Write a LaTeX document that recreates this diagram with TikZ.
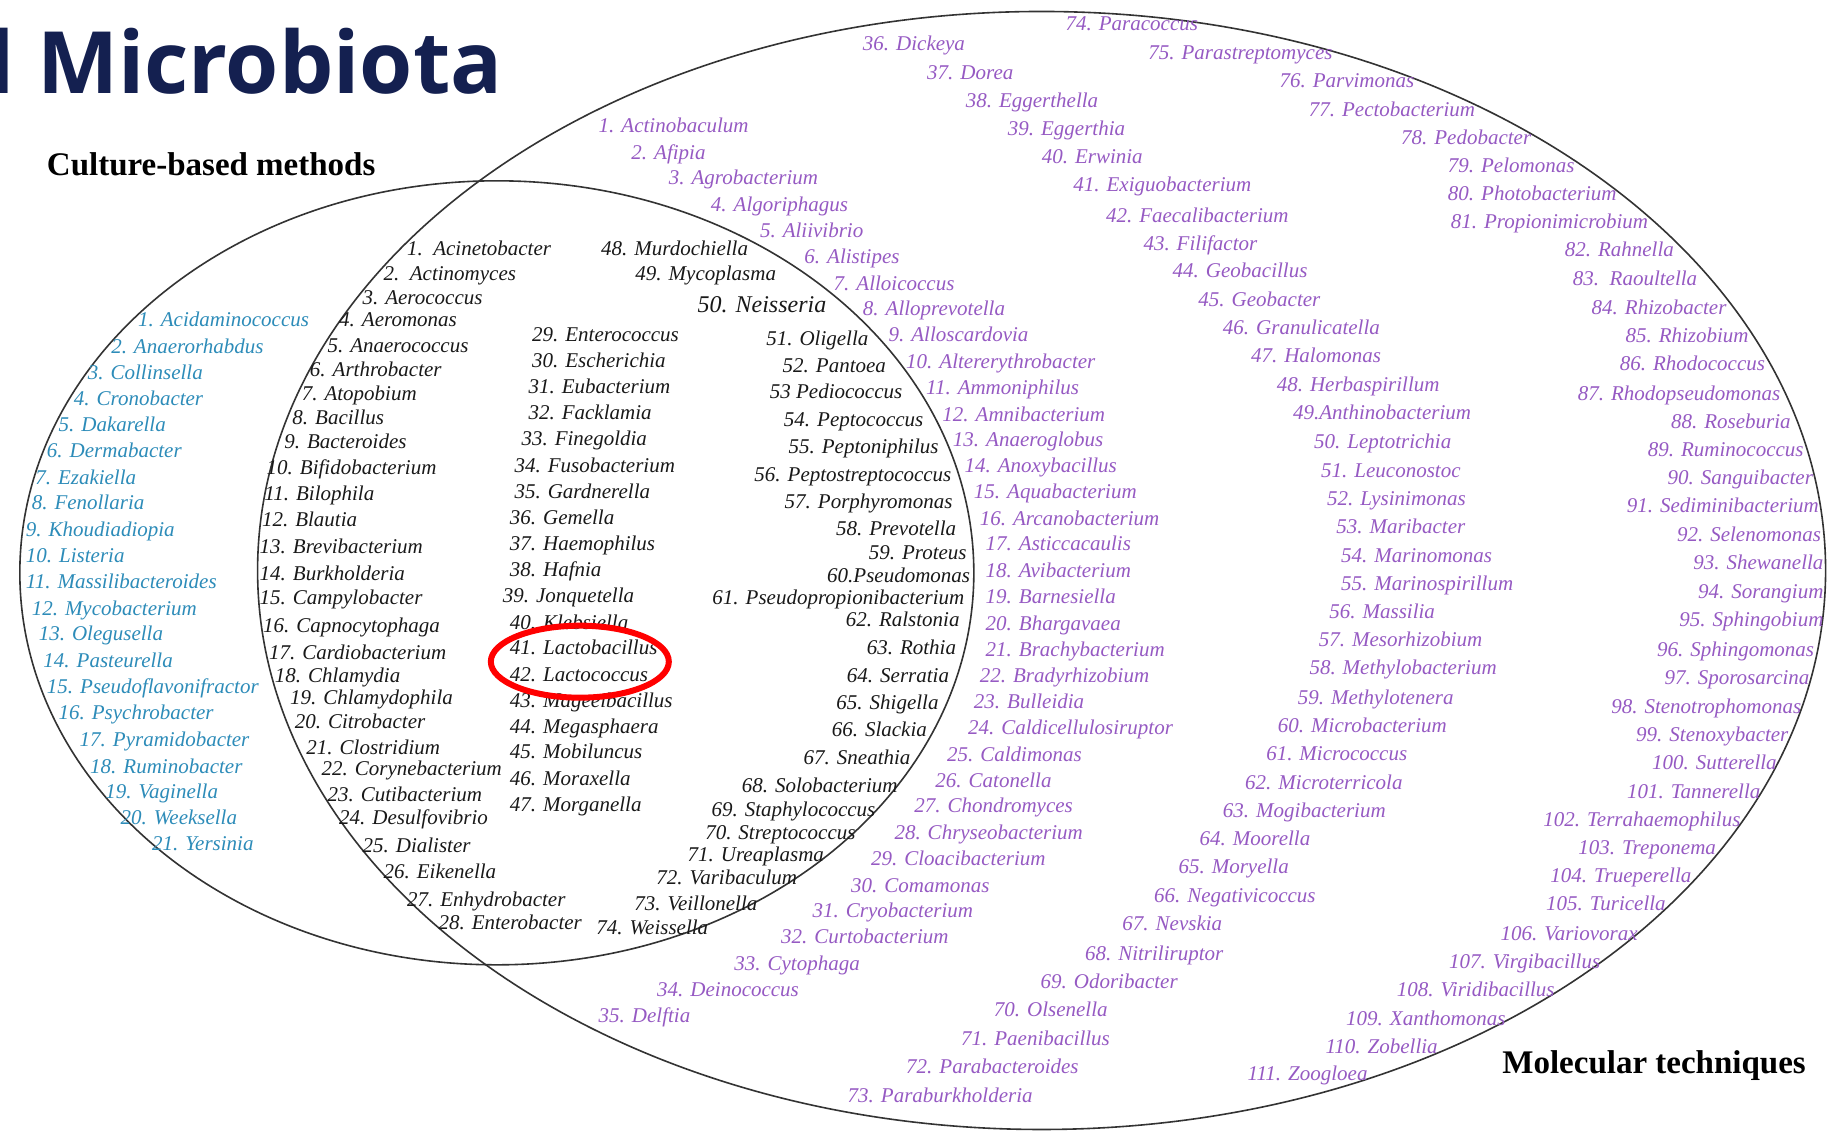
\documentclass[tikz,border=0pt]{standalone}
\usepackage{fontspec}
\setmainfont{Liberation Serif}
\newfontfamily\titlefont{Open Sans}
\usepackage{xcolor}
\usepackage{tikz}
\usetikzlibrary{positioning}

\definecolor{titlenavy}{RGB}{20,32,80}
\definecolor{cultblue}{RGB}{45,140,185}
\definecolor{molpurple}{RGB}{150,90,195}

\newcommand{\genusfont}{\fontsize{21}{25}\selectfont\itshape}
\newcommand{\headfont}{\fontsize{33}{37}\selectfont\bfseries}

\begin{document}
\begin{tikzpicture}[
    x=1.169pt, y=-1.169pt,
    genus/.style={font=\genusfont, inner sep=0pt, yshift=-5pt},
    cult/.style={genus, text=cultblue, anchor=mid west},
    shared/.style={genus, text=black!90, anchor=mid west},
    sharedr/.style={genus, text=black!90, anchor=mid east},
    molec/.style={genus, text=molpurple, anchor=mid west},
    molecr/.style={genus, text=molpurple, anchor=mid east},
    head/.style={font=\headfont, inner sep=0pt, anchor=mid west, yshift=-7pt},
    venn/.style={line width=1.6pt, black!80}
]

\fill[white] (0,0) rectangle (1568,968);
\useasboundingbox (0,0) rectangle (1568,968);

% title
\node[font=\titlefont\bfseries\fontsize{86}{90}\selectfont, text=titlenavy,
      anchor=base west, inner sep=0pt] (title) at (-10,80) {l Microbiota};

% the two sets
\draw[venn] (425,490) ellipse [x radius=477pt, y radius=392pt];
\draw[venn] (891,488) ellipse [x radius=784pt, y radius=559pt];

\node[head] (culture) at (40,142) {Culture-based methods};
\node[head] (molecular) at (1285,910) {Molecular techniques};

% culture-based only
\foreach \x/\y/\lab [count=\i] in {118/273/1. Acidaminococcus, 95/296/2. Anaerorhabdus,
    75/318/3. Collinsella, 63/341/4. Cronobacter, 50/363/5. Dakarella, 40/385/6. Dermabacter,
    30/408/7. Ezakiella, 27/430/8. Fenollaria, 22/453/9. Khoudiadiopia, 22/475/10. Listeria,
    22/497/11. Massilibacteroides, 27/520/12. Mycobacterium, 33/542/13. Olegusella,
    37/565/14. Pasteurella, 40/587/15. Pseudoflavonifractor, 50/609/16. Psychrobacter,
    68/632/17. Pyramidobacter, 77/655/18. Ruminobacter, 90/677/19. Vaginella,
    103/699/20. Weeksella, 130/721/21. Yersinia}
    \node[cult] (cult\i) at (\x,\y) {\lab};

% both methods
\foreach \x/\y/\lab [count=\i] in {348/212/1.\ \ Acinetobacter, 328/234/2.\ \ Actinomyces,
    310/254/3. Aerococcus, 290/273/4. Aeromonas, 280/295/5. Anaerococcus, 265/316/6. Arthrobacter,
    258/336/7. Atopobium, 250/357/8. Bacillus, 243/377/9. Bacteroides, 228/400/10. Bifidobacterium,
    226/422/11. Bilophila, 224/444/12. Blautia, 222/467/13. Brevibacterium, 222/490/14. Burkholderia,
    222/511/15. Campylobacter, 225/535/16. Capnocytophaga, 230/558/17. Cardiobacterium,
    235/578/18. Chlamydia, 248/596/19. Chlamydophila, 252/617/20. Citrobacter,
    262/639/21. Clostridium, 275/657/22. Corynebacterium, 280/679/23. Cutibacterium,
    290/699/24. Desulfovibrio, 310/723/25. Dialister, 328/745/26. Eikenella,
    348/769/27. Enhydrobacter, 375/789/28. Enterobacter}
    \node[shared] (both\i) at (\x,\y) {\lab};
\foreach \x/\y/\lab [count=\i from 29] in {455/286/29. Enterococcus, 455/308/30. Escherichia,
    452/330/31. Eubacterium, 452/353/32. Facklamia, 446/375/33. Finegoldia,
    440/398/34. Fusobacterium, 440/420/35. Gardnerella, 436/442/36. Gemella,
    436/465/37. Haemophilus, 436/487/38. Hafnia, 430/509/39. Jonquetella,
    436/532/40. Klebsiella, 436/554/41. Lactobacillus, 436/577/42. Lactococcus,
    436/599/43. Mageeibacillus, 436/621/44. Megasphaera, 436/643/45. Mobiluncus,
    436/666/46. Moraxella, 436/688/47. Morganella}
    \node[shared] (both\i) at (\x,\y) {\lab};
\foreach \x/\y/\lab [count=\i from 48] in {640/212/48. Murdochiella, 664/234/49. Mycoplasma,
    707/261/{\fontsize{24}{28}\selectfont 50. Neisseria}, 743/289/51. Oligella, 758/312/52. Pantoea,
    772/335/53 Pediococcus, 790/359/54. Peptococcus, 803/382/55. Peptoniphilus,
    814/406/56. Peptostreptococcus, 815/429/57. Porphyromonas, 818/452/58. Prevotella,
    827/472/59. Proteus, 830/492/60.Pseudomonas, 825/511/61. Pseudopropionibacterium,
    821/530/62. Ralstonia, 818/554/63. Rothia, 812/578/64. Serratia, 803/601/65. Shigella,
    793/624/66. Slackia, 779/648/67. Sneathia, 768/672/68. Solobacterium,
    749/692/69. Staphylococcus, 732/712/70. Streptococcus, 705/731/71. Ureaplasma,
    682/750/72. Varibaculum, 648/773/73. Veillonella, 606/793/74. Weissella}
    \node[sharedr] (both\i) at (\x,\y) {\lab};

% molecular techniques only
\foreach \x/\y/\lab [count=\i] in {512/107/1. Actinobaculum, 540/130/2. Afipia,
    572/152/3. Agrobacterium, 608/175/4. Algoriphagus, 650/197/5. Aliivibrio,
    688/219/6. Alistipes, 713/242/7. Alloicoccus, 738/264/8. Alloprevotella,
    760/286/9. Alloscardovia, 775/309/10. Altererythrobacter, 792/331/11. Ammoniphilus,
    806/354/12. Amnibacterium, 815/376/13. Anaeroglobus, 825/398/14. Anoxybacillus,
    833/420/15. Aquabacterium, 838/443/16. Arcanobacterium, 843/465/17. Asticcacaulis,
    843/488/18. Avibacterium, 843/510/19. Barnesiella, 843/533/20. Bhargavaea,
    843/555/21. Brachybacterium, 838/578/22. Bradyrhizobium, 833/600/23. Bulleidia,
    828/622/24. Caldicellulosiruptor, 810/645/25. Caldimonas, 800/667/26. Catonella,
    782/689/27. Chondromyces, 765/712/28. Chryseobacterium, 745/734/29. Cloacibacterium,
    728/757/30. Comamonas, 695/779/31. Cryobacterium, 668/801/32. Curtobacterium,
    628/824/33. Cytophaga, 562/846/34. Deinococcus, 512/868/35. Delftia}
    \node[molec] (mol\i) at (\x,\y) {\lab};
\foreach \x/\y/\lab [count=\i from 36] in {738/37/36. Dickeya, 793/62/37. Dorea,
    826/86/38. Eggerthella, 862/110/39. Eggerthia, 891/134/40. Erwinia,
    918/158/41. Exiguobacterium, 946/184/42. Faecalibacterium, 978/208/43. Filifactor,
    1003/231/44. Geobacillus, 1025/256/45. Geobacter, 1046/280/46. Granulicatella,
    1070/304/47. Halomonas, 1092/329/48. Herbaspirillum, 1106/353/49.Anthinobacterium,
    1124/377/50. Leptotrichia, 1130/402/51. Leuconostoc, 1135/426/52. Lysinimonas,
    1143/450/53. Maribacter, 1147/475/54. Marinomonas, 1147/499/55. Marinospirillum,
    1137/523/56. Massilia, 1128/547/57. Mesorhizobium, 1120/571/58. Methylobacterium,
    1110/596/59. Methylotenera, 1093/620/60. Microbacterium, 1083/644/61. Micrococcus,
    1065/669/62. Microterricola, 1046/693/63. Mogibacterium, 1026/717/64. Moorella,
    1008/741/65. Moryella, 987/766/66. Negativicoccus, 960/790/67. Nevskia,
    928/815/68. Nitriliruptor, 890/839/69. Odoribacter, 850/863/70. Olsenella,
    822/888/71. Paenibacillus, 775/912/72. Parabacteroides, 725/937/73. Paraburkholderia}
    \node[molec] (mol\i) at (\x,\y) {\lab};
\foreach \x/\y/\lab [count=\i from 74] in {1025/20/74. Paracoccus, 1140/45/75. Parastreptomyces,
    1210/69/76. Parvimonas, 1262/93/77. Pectobacterium, 1310/117/78. Pedobacter,
    1347/141/79. Pelomonas, 1383/165/80. Photobacterium, 1410/189/81. Propionimicrobium,
    1432/213/82. Rahnella, 1452/238/83.\ \ Raoultella, 1477/263/84. Rhizobacter,
    1496/287/85. Rhizobium, 1510/311/86. Rhodococcus, 1523/336/87. Rhodopseudomonas,
    1532/360/88. Roseburia, 1543/384/89. Ruminococcus, 1551/408/90. Sanguibacter,
    1556/432/91. Sediminibacterium, 1558/457/92. Selenomonas, 1560/481/93. Shewanella,
    1560/506/94. Sorangium, 1560/530/95. Sphingobium, 1552/555/96. Sphingomonas,
    1548/579/97. Sporosarcina, 1541/604/98. Stenotrophomonas, 1530/628/99. Stenoxybacter,
    1520/652/100. Sutterella, 1506/677/101. Tannerella, 1489/701/102. Terrahaemophilus,
    1468/725/103. Treponema, 1447/749/104. Trueperella, 1425/773/105. Turicella,
    1401/798/106. Variovorax, 1369/822/107. Virgibacillus, 1330/846/108. Viridibacillus,
    1288/871/109. Xanthomonas, 1230/895/110. Zobellia, 1170/918/111. Zoogloea}
    \node[molecr] (mol\i) at (\x,\y) {\lab};

% highlight
\draw[red, line width=6pt] (496,566) ellipse [x radius=89pt, y radius=36pt];

\end{tikzpicture}
\end{document}
